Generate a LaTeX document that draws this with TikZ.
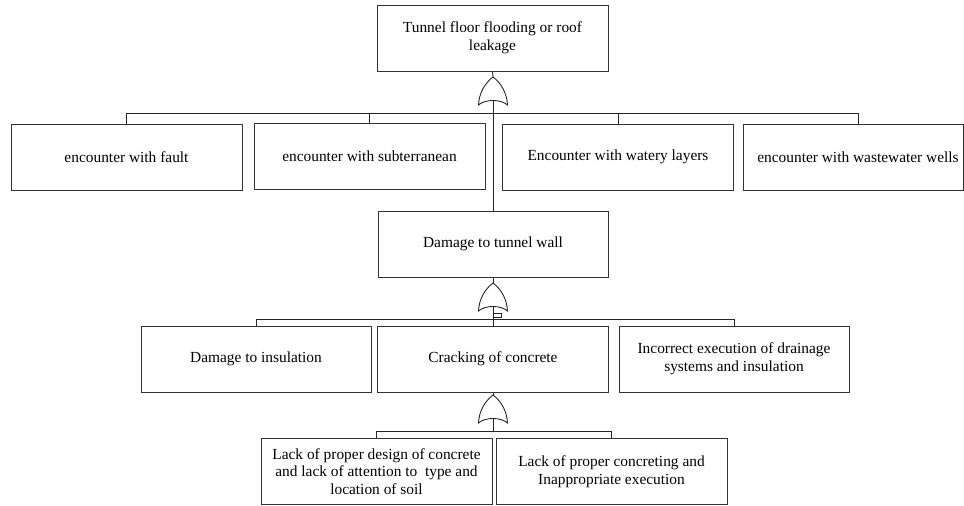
\documentclass[tikz,border=0pt]{standalone}
\usepackage{fontspec}
\setmainfont{Liberation Serif}
\usetikzlibrary{calc}

\tikzset{
  box/.style={draw=black!80, line width=0.9pt, minimum width=231pt, minimum height=66pt,
    inner sep=2pt, align=center, font=\fontsize{15.4}{18}\selectfont},
  wire/.style={draw=black!85, line width=0.9pt},
  % OR gate, apex at the origin, output side downwards
  orgate/.pic={
    \coordinate (-in) at (0,0);
    \coordinate (-out) at (0,23.5);
    \draw[wire, fill=white] (0,0) .. controls (8,6) and (14,16) .. (14.5,28)
      .. controls (8,22) and (-8,22) .. (-14.5,28)
      .. controls (-14,16) and (-8,6) .. (0,0) -- cycle;
  }
}

\begin{document}
\begin{tikzpicture}[x=1pt, y=-1pt]
\useasboundingbox (0,0) rectangle (964,506);

% top event
\node[box] (top) at (492.5,38) {Tunnel floor flooding or roof\\leakage};
\pic (g1) at (493,77) {orgate};
\coordinate (bus1) at (0,113);

% first level
\node[box] (a) at (126.5,157) {encounter with fault};
\node[box] (b) at (369.5,156) {encounter with subterranean};
\node[box] (c) at (618,157) {Encounter with watery layers};
\node[box, minimum width=220pt] (d) at (853,157) {\hspace*{10pt}encounter with wastewater wells};
\node[box, minimum width=230pt] (wall) at (493,244) {Damage to tunnel wall};

\pic (g2) at (493,283) {orgate};
\coordinate (bus2) at (0,319);

% second level
\node[box, minimum width=230pt] (ins) at (256,359) {Damage to insulation};
\node[box] (crack) at (493,359) {Cracking of concrete};
\node[box, minimum width=230pt] (inc) at (734,359) {Incorrect execution of drainage\\systems and insulation};

\pic (g3) at (493,395) {orgate};
\coordinate (bus3) at (0,431);

% third level
\node[box, font=\fontsize{15.4}{17.6}\selectfont] (l1) at (376.5,471.5)
  {Lack of proper design of concrete\\and lack of attention to\ \ type and\\location of soil};
\node[box] (l2) at (611.5,471.5) {Lack of proper concreting and\\Inappropriate execution};

% connectors
\draw[wire] (top.south) -- (g1-in);
\foreach \n in {a,b,c}
  \draw[wire] (g1-out) |- (\n.north |- bus1) -- (\n.north);
\coordinate (dtap) at ([xshift=5pt]d.north);
\draw[wire] (g1-out) |- (dtap |- bus1) -- (dtap);
\draw[wire] (g1-out) -- (wall.north);

\draw[wire] (wall.south) -- (g2-in);
\foreach \n in {ins,inc}
  \draw[wire] (g2-out) |- (\n.north |- bus2) -- (\n.north);
\draw[wire] (g2-out) -- (crack.north);
\draw[wire, line width=0.7pt] ($(g2-out)+(0,6.5)$) -| ($(g2-out)+(8,10.5)$) -- ($(g2-out)+(0,10.5)$);

\draw[wire] (crack.south) -- (g3-in);
\foreach \n in {l1,l2}
  \draw[wire] (g3-out) |- (\n.north |- bus3) -- (\n.north);
\end{tikzpicture}
\end{document}
